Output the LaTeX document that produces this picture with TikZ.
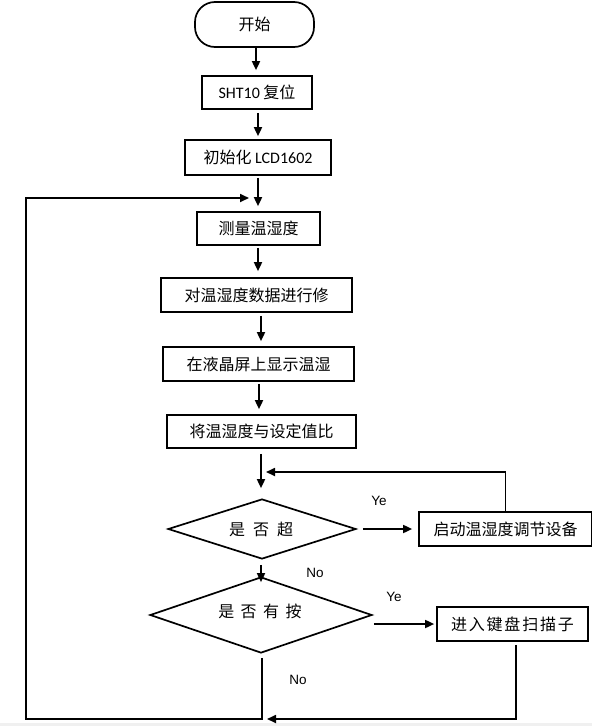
\documentclass[tikz,border=0pt]{standalone}
\usepackage{fontspec}
\setmainfont{Carlito}
\newfontfamily\cjk{Noto Sans CJK SC}
\newfontfamily\arialf{Liberation Sans}
\usetikzlibrary{shapes.geometric,arrows.meta,calc}
\begin{document}
\begin{tikzpicture}[x=1pt,y=-1pt,
  box/.style={draw,line width=1.7pt,inner sep=0pt,font=\cjk\fontsize{16}{18}\selectfont},
  dia/.style={draw,diamond,line width=1.7pt,inner sep=0pt,font=\cjk\fontsize{16}{18}\selectfont},
  arr/.style={line width=1.7pt,-{Triangle[length=9pt,width=8pt]}},
  ln/.style={line width=1.7pt},
  lab/.style={inner sep=0pt,font=\arialf\fontsize{13.5}{15}\selectfont}]
\useasboundingbox (0,0) rectangle (592,726);
\fill[white] (0,0) rectangle (592,726);
\fill[black!6] (0,723) rectangle (592,726);
% nodes
\node[box,rounded corners=20pt,minimum width=119pt,minimum height=45pt] (start) at (254.5,24.5) {开始};
\node[box,minimum width=110pt,minimum height=33pt] (sht) at (257,92.5) {{\fontspec{Carlito}SHT10} 复位};
\node[box,minimum width=146pt,minimum height=35pt] (init) at (258,157.5) {初始化 {\fontspec{Carlito}LCD1602}};
\node[box,minimum width=123pt,minimum height=33pt] (meas) at (258.5,228.5) {测量温湿度};
\node[box,minimum width=191pt,minimum height=34pt] (fix) at (256.5,295) {对温湿度数据进行修};
\node[box,minimum width=191pt,minimum height=34pt] (disp) at (258.5,364) {在液晶屏上显示温湿};
\node[box,minimum width=189pt,minimum height=33pt] (cmp) at (261.5,431.5) {将温湿度与设定值比};
\node[dia,minimum width=188pt,minimum height=60pt] (d1) at (262,529) {};
\node[font=\cjk\fontsize{16}{18}\selectfont,inner sep=0pt] (d1t) at (261,529) {是\hspace{8pt}否\hspace{8pt}超};
\node[box,minimum width=173pt,minimum height=34pt] (ctl) at (505.5,529) {启动温湿度调节设备};
\node[dia,minimum width=222pt,minimum height=76pt] (d2) at (261,615) {};
\node[font=\cjk\fontsize{16}{18}\selectfont,inner sep=0pt] (d2t) at (260,611) {是\hspace{6.5pt}否\hspace{6.5pt}有\hspace{6.5pt}按};
\node[box,minimum width=151pt,minimum height=34pt] (key) at (512.5,624) {进\hspace{1.8pt}入\hspace{1.8pt}键\hspace{1.8pt}盘\hspace{1.8pt}扫\hspace{1.8pt}描\hspace{1.8pt}子};
% labels
\node[lab] (ye1) at (379,501) {Ye};
\node[lab] (no1) at (315,573) {No};
\node[lab] (ye2) at (394,597) {Ye};
\node[lab] (no2) at (298,680) {No};
% coordinates
\coordinate (loopin) at (249,198);
\coordinate (fb1) at (266,472);
\coordinate (fb2) at (267,719);
\coordinate (bl) at (26,719);
% connectors
\draw[arr,shorten >=5pt] (start.south -| 256,0) -- (sht.north -| 256,0);
\draw[arr,shorten <=3pt,shorten >=3pt] (sht.south -| 258,0) -- (init.north -| 258,0);
\draw[arr,shorten <=2pt,shorten >=5pt] (init.south -| 258,0) -- (meas.north -| 258,0);
\draw[arr,shorten <=2pt,shorten >=6pt] (meas.south -| 258,0) -- (fix.north -| 258,0);
\draw[arr,shorten <=3pt,shorten >=5pt] (fix.south -| 261,0) -- (disp.north -| 261,0);
\draw[arr,shorten <=2pt,shorten >=5pt] (disp.south -| 259,0) -- (cmp.north -| 259,0);
\draw[arr,shorten <=5pt,shorten >=10pt] (cmp.south -| 261,0) -- (d1.north -| 261,0);
\draw[arr,shorten <=6pt,shorten >=6pt] (d1.east) -- (ctl.west);
\draw[arr] (ctl.north) |- (fb1);
\draw[arr,shorten <=5pt,shorten >=-6pt] (d1.south -| 261,0) -- (d2.north -| 261,0);
\draw[arr,shorten <=1pt,shorten >=2pt] (key.west -| d2.east) -- (key.west);
\draw[arr,shorten <=3pt] (key.south -| 516,0) |- (fb2);
\draw[arr,shorten <=4pt] (d2.south -| 262,0) -- (262,719) -- (bl) -- (bl |- loopin) -- (loopin);
\end{tikzpicture}
\end{document}
